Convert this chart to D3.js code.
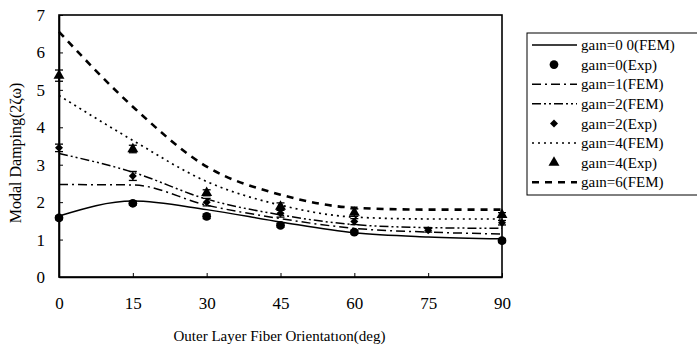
<!DOCTYPE html>
<html lang="en">
<head>
<meta charset="UTF-8">
<script src="https://d3js.org/d3.v7.min.js"></script>
<style>
    body { margin: 0; background: #fff; }
    svg text { font-family: 'Liberation Serif', 'DejaVu Serif', serif; fill: #000; }
</style>
</head>
<body>
<div id="chart"></div>
<script>
// fiber orientation (deg)
const angles = [0, 15, 30, 45, 60, 75, 90];
const xTicks = [0, 15, 30, 45, 60, 75, 90];
const yTicks = [0, 1, 2, 3, 4, 5, 6, 7];

// FEM curves
const fem0 = [1.63, 2.03, 1.80, 1.47, 1.18, 1.07, 1.02];
const fem1 = [2.47, 2.46, 1.92, 1.56, 1.30, 1.20, 1.15];
const fem2 = [3.30, 2.80, 2.08, 1.66, 1.40, 1.32, 1.30];
const fem4 = [4.85, 3.65, 2.55, 1.92, 1.60, 1.55, 1.55];
const fem6 = [6.55, 4.55, 2.95, 2.20, 1.85, 1.80, 1.80];

// experiment points [angle, value, error]
const exp0 = [[0, 1.58, 0.05], [15, 1.97, 0.05], [30, 1.62, 0.06], [45, 1.38, 0.05], [60, 1.20, 0.05], [90, 0.97, 0.05]];
const exp2 = [[0, 3.45, 0.1], [15, 2.70, 0.12], [30, 2.00, 0.1], [45, 1.70, 0.1], [60, 1.48, 0.08], [75, 1.25, 0.05], [90, 1.45, 0.06]];
const exp4 = [[0, 5.38, 0.15], [15, 3.42, 0.1], [30, 2.25, 0.08], [45, 1.88, 0.1], [60, 1.72, 0.1], [90, 1.66, 0.06]];

const legendLabels = ["gaın=0 0(FEM)", "gaın=0(Exp)", "gaın=1(FEM)", "gaın=2(FEM)",
    "gaın=2(Exp)", "gaın=4(FEM)", "gaın=4(Exp)", "gaın=6(FEM)"];

const W = 697, H = 345;
const margin = {top: 15, right: 195, bottom: 68, left: 59};
const width = W - margin.left - margin.right,
      height = H - margin.top - margin.bottom;

const svg = d3.select("#chart").append("svg")
    .attr("width", W).attr("height", H);
const g = svg.append("g")
    .attr("transform", "translate(" + margin.left + "," + margin.top + ")");

const x = d3.scaleLinear().domain([0, 90]).range([0, width]);
const y = d3.scaleLinear().domain([0, 7]).range([height, 0]);

// line styles
const styles = {
    fem0: {dash: null, w: 1.5},
    fem1: {dash: "9,4,2,4", w: 1.5},
    fem2: {dash: "9,3,2,3,2,3", w: 1.5},
    fem4: {dash: "2,4", w: 1.7},
    fem6: {dash: "7,6", w: 2.6}
};

const line = d3.line()
    .x((d, i) => x(angles[i]))
    .y(d => y(d))
    .curve(d3.curveMonotoneX);

[["fem0", fem0], ["fem1", fem1], ["fem2", fem2], ["fem4", fem4], ["fem6", fem6]].forEach(([k, data]) => {
    g.append("path")
        .datum(data)
        .attr("fill", "none")
        .attr("stroke", "#000")
        .attr("stroke-width", styles[k].w)
        .attr("stroke-dasharray", styles[k].dash)
        .attr("d", line);
});

// markers
const sym = {
    circle: {d: d3.symbol().type(d3.symbolCircle).size(60), rot: 0},
    diamond: {d: d3.symbol().type(d3.symbolSquare).size(32), rot: 45},
    triangle: {d: d3.symbol().type(d3.symbolTriangle).size(52), rot: 0}
};

function marker(sel, shape, cx, cy) {
    sel.append("path")
        .attr("transform", "translate(" + cx + "," + cy + ") rotate(" + sym[shape].rot + ")")
        .attr("d", sym[shape].d())
        .attr("fill", "#000");
}

function drawExp(data, shape) {
    const grp = g.append("g");
    data.forEach(([a, v, e]) => {
        const cx = x(a);
        grp.append("line")
            .attr("x1", cx).attr("x2", cx)
            .attr("y1", y(v - e)).attr("y2", y(v + e))
            .attr("stroke", "#000").attr("stroke-width", 1.3);
        [v - e, v + e].forEach(t => {
            grp.append("line")
                .attr("x1", cx - 4).attr("x2", cx + 4)
                .attr("y1", y(t)).attr("y2", y(t))
                .attr("stroke", "#000").attr("stroke-width", 1.3);
        });
        marker(grp, shape, cx, y(v));
    });
}
drawExp(exp0, "circle");
drawExp(exp2, "diamond");
drawExp(exp4, "triangle");

// frame
g.append("rect")
    .attr("width", width).attr("height", height)
    .attr("fill", "none").attr("stroke", "#000").attr("stroke-width", 1.6);

// axes, ticks pointing inward
const xAxis = g.append("g")
    .attr("transform", "translate(0," + height + ")")
    .call(d3.axisBottom(x).tickValues(xTicks).tickFormat(d3.format("d"))
        .tickSizeInner(-4).tickSizeOuter(0).tickPadding(20));
const yAxis = g.append("g")
    .call(d3.axisLeft(y).tickValues(yTicks).tickFormat(d3.format("d"))
        .tickSizeInner(-4).tickSizeOuter(0).tickPadding(14));
[xAxis, yAxis].forEach(ax => {
    ax.select(".domain").attr("stroke-width", 1.6);
    ax.selectAll("text").style("font-size", "17px").style("font-family", "'Liberation Serif', serif");
});

// axis titles
svg.append("text")
    .attr("x", margin.left + width / 2 - 1)
    .attr("y", 341)
    .attr("text-anchor", "middle")
    .style("font-size", "15px")
    .text("Outer Layer Fiber Orientatıon(deg)");

svg.append("text")
    .attr("transform", "translate(21," + (margin.top + height / 2 + 7) + ") rotate(-90)")
    .attr("text-anchor", "middle")
    .style("font-size", "16px")
    .text("Modal Damping(2ζω)");

// legend
const lg = svg.append("g").attr("transform", "translate(527,33)");
lg.append("rect")
    .attr("width", 172).attr("height", 162)
    .attr("fill", "#fff").attr("stroke", "#000").attr("stroke-width", 1);

const legendKeys = ["fem0", "circle", "fem1", "fem2", "diamond", "fem4", "triangle", "fem6"];
legendLabels.forEach((lab, i) => {
    const ry = 12 + i * 19.6;
    const k = legendKeys[i];
    if (styles[k]) {
        lg.append("line")
            .attr("x1", 5).attr("x2", 50)
            .attr("y1", ry).attr("y2", ry)
            .attr("stroke", "#000")
            .attr("stroke-width", styles[k].w)
            .attr("stroke-dasharray", styles[k].dash);
    } else {
        marker(lg, k, 27, ry);
    }
    lg.append("text")
        .attr("x", 54)
        .attr("y", ry)
        .attr("dy", "0.35em")
        .style("font-size", "15px")
        .text(lab);
});
</script>
</body>
</html>
